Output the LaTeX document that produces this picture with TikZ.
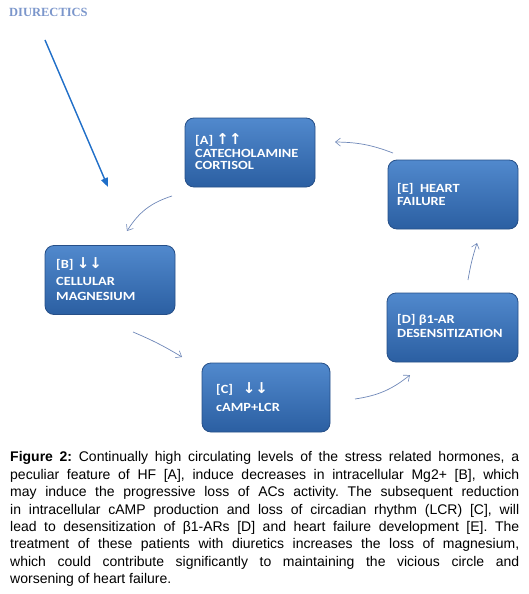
\documentclass[tikz,border=0pt]{standalone}
\usepackage{fontspec}
\setmainfont{Liberation Sans}
\newfontfamily\boxfont[FakeStretch=1.15]{Carlito}
\newfontfamily\symfont{DejaVu Sans}
\newfontfamily\titlefont{Liberation Serif}
\usetikzlibrary{arrows.meta}
\frenchspacing
\definecolor{boxtop}{HTML}{5189CD}
\definecolor{boxbot}{HTML}{2B5FA2}
\definecolor{boxline}{HTML}{264F88}
\definecolor{cyc}{HTML}{6F88B8}
\definecolor{diu}{HTML}{1F6EC8}
\definecolor{diutext}{HTML}{7B96CB}
\tikzset{
  cbox/.style={draw=boxline, line width=0.8pt, rounded corners=9pt, top color=boxtop, bottom color=boxbot, minimum width=130pt, minimum height=69pt, inner sep=0pt},
  btxt/.style={anchor=base west, inner sep=0pt, text=white, font=\boxfont\bfseries\fontsize{12.5}{14}\selectfont},
  cyca/.style={draw=cyc, line width=0.7pt, -{Straight Barb[length=5pt,width=8pt,line width=0.6pt]}},
  diua/.style={draw=diu, line width=1.4pt, -{Triangle[length=9pt,width=7pt]}},
}
\newcommand{\up}{{\symfont\bfseries\fontsize{15}{15}\selectfont ↑↑}}
\newcommand{\dn}{{\symfont\bfseries\fontsize{15}{15}\selectfont ↓↓}}
\begin{document}
\begin{tikzpicture}[x=1pt,y=-1pt]
\useasboundingbox (0,0) rectangle (529,594);
% title
\node[anchor=base west, inner sep=0pt, text=diutext, font=\titlefont\bfseries\fontsize{12.5}{14}\selectfont] (diut) at (9,17) {DIURECTICS};
% boxes
\node[cbox] (A) at (250,152.5) {};
\node[cbox] (E) at (453,194.5) {};
\node[cbox] (B) at (110,280) {};
\node[cbox, minimum width=131pt] (D) at (452.5,327.5) {};
\node[cbox, minimum width=128pt] (C) at (266,397.5) {};
% box texts
\node[btxt] (A1) at (195,144) {[A] \up};
\node[btxt] (A2) at (195,157) {CATECHOLAMINE};
\node[btxt] (A3) at (195,169.5) {CORTISOL};
\node[btxt] (E1) at (397,192) {[E]\ \ HEART};
\node[btxt] (E2) at (397,205) {FAILURE};
\node[btxt] (B1) at (56,268) {[B] \dn};
\node[btxt] (B2) at (56,285) {CELLULAR};
\node[btxt] (B3) at (56,300) {MAGNESIUM};
\node[btxt] (D1) at (397,323) {[D] β1-AR};
\node[btxt] (D2) at (397,337) {DESENSITIZATION};
\node[btxt] (C1) at (216,393) {[C]\ \ \ \dn};
\node[btxt] (C2) at (216,411) {cAMP+LCR};
% connector end points
\coordinate (dS) at (45,40);
\coordinate (dE) at (108,187);
\coordinate (ab1) at (172,196);
\coordinate (ab2) at (127,231);
\coordinate (bc1) at (133,332);
\coordinate (bc2) at (182,357);
\coordinate (cd1) at (355,399);
\coordinate (cd2) at (410,375);
\coordinate (de1) at (468,280);
\coordinate (de2) at (477,243);
\coordinate (ea1) at (393,153);
\coordinate (ea2) at (335,142);
% connectors
\draw[diua] (dS) -- (dE);
\draw[cyca] (ab1) to[bend right=20] (ab2);
\draw[cyca] (bc1) to[bend left=4] (bc2);
\draw[cyca] (cd1) to[bend right=15] (cd2);
\draw[cyca] (de1) to[bend left=4] (de2);
\draw[cyca] (ea1) to[bend right=10] (ea2);
% caption
\node[anchor=north west, inner sep=0pt, text width=509pt, align=justify, font=\fontsize{14}{17.4}\selectfont] (cap) at (10,451.5) {\textbf{Figure 2:} Continually high circulating levels of the stress related hormones, a\linebreak peculiar feature of HF [A], induce decreases in intracellular Mg2+ [B], which\linebreak may induce the progressive loss of ACs activity. The subsequent reduction\linebreak in intracellular cAMP production and loss of circadian rhythm (LCR) [C], will\linebreak lead to desensitization of β1-ARs [D] and heart failure development [E]. The\linebreak treatment of these patients with diuretics increases the loss of magnesium,\linebreak which could contribute significantly to maintaining the vicious circle and\linebreak worsening of heart failure.};
\end{tikzpicture}
\end{document}
